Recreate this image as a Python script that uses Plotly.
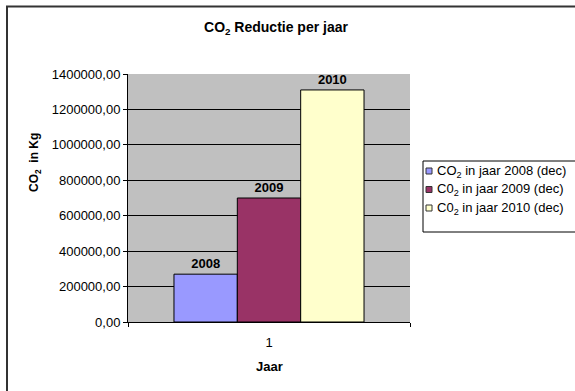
import plotly.graph_objects as go

# Data
categories = ["1"]
years = ["2008", "2009", "2010"]
series_names = [
    "CO<sub>2</sub> in jaar 2008 (dec)",
    "C0<sub>2</sub> in jaar 2009 (dec)",
    "C0<sub>2</sub> in jaar 2010 (dec)",
]
values = [270000, 700000, 1310000]
colors = ["#9999FF", "#993366", "#FFFFCC"]

W, H = 575, 391
L, R, T, B = 128, 410, 74, 322  # plot area in pixels

def px_x(p):
    return (p - L) / (R - L)

def px_y(p):
    return (B - p) / (B - T)

FONT = "Liberation Sans, Arial, sans-serif"

fig = go.Figure()
for name, yr, val, col in zip(series_names, years, values, colors):
    fig.add_trace(go.Bar(
        x=categories, y=[val], name=name,
        marker=dict(color=col, line=dict(color="black", width=1)),
        text=[f"<b>{yr}</b>"], textposition="outside",
        textfont=dict(family=FONT, size=13, color="black"),
        cliponaxis=False, showlegend=False,
    ))

shapes = [
    # outer chart frame
    dict(type="rect", xref="paper", yref="paper",
         x0=px_x(7), x1=px_x(620), y0=px_y(6.5), y1=px_y(420),
         line=dict(color="#333333", width=2), layer="below"),
    # legend box
    dict(type="rect", xref="paper", yref="paper",
         x0=px_x(423), x1=px_x(620), y0=px_y(161), y1=px_y(232),
         line=dict(color="black", width=1), fillcolor="white"),
]
annotations = [
    dict(text="<b>CO<sub>2</sub>  in Kg</b>", xref="paper", yref="paper",
         x=px_x(35), y=px_y(163), textangle=-90, showarrow=False,
         xanchor="center", yanchor="middle",
         font=dict(family=FONT, size=12, color="black")),
    dict(text="<b>Jaar</b>", xref="paper", yref="paper",
         x=px_x(269), y=px_y(366), showarrow=False,
         xanchor="center", yanchor="middle",
         font=dict(family=FONT, size=13, color="black")),
]
for i, (name, col) in enumerate(zip(series_names, colors)):
    cy = 171 + 18.5 * i
    shapes.append(dict(type="rect", xref="paper", yref="paper",
                       x0=px_x(426), x1=px_x(432), y0=px_y(cy - 3), y1=px_y(cy + 3),
                       line=dict(color="#333333", width=1), fillcolor=col))
    annotations.append(dict(text=name, xref="paper", yref="paper",
                            x=px_x(435), y=px_y(cy), showarrow=False,
                            xanchor="left", yanchor="middle",
                            font=dict(family=FONT, size=13, color="black")))

fig.update_layout(
    width=W, height=H,
    margin=dict(l=L, r=W - R, t=T, b=H - B, autoexpand=False),
    paper_bgcolor="white", plot_bgcolor="#C0C0C0",
    barmode="group", bargap=0.326, bargroupgap=0,
    separators=",.",
    title=dict(text="<b>CO<sub>2</sub> Reductie per jaar</b>",
               x=276 / W, y=1 - 27 / H, xanchor="center", yanchor="middle",
               font=dict(family=FONT, size=14, color="black")),
    font=dict(family=FONT, size=13, color="black"),
    shapes=shapes, annotations=annotations,
)
fig.update_yaxes(
    range=[0, 1400000], dtick=200000, tickformat=".2f",
    showgrid=True, gridcolor="black", gridwidth=1,
    showline=True, linecolor="black", linewidth=1,
    ticks="outside", ticklen=4, tickcolor="black",
    tickfont=dict(family=FONT, size=13, color="black"),
    zeroline=False,
)
fig.update_xaxes(
    showline=True, linecolor="black", linewidth=1,
    ticks="outside", ticklen=4, tickcolor="black", tickson="boundaries",
    ticklabelstandoff=8,
    tickfont=dict(family=FONT, size=13, color="black"),
)

fig.write_html("out.html")
